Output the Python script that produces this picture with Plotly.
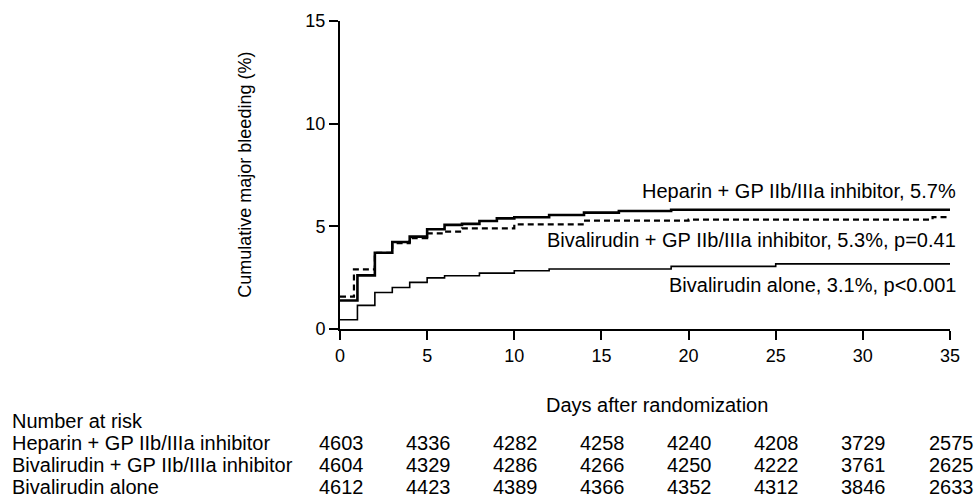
import plotly.graph_objects as go

# ---- data ----
heparin_days = [0, 1, 2, 3, 4, 5, 6, 7, 8, 9, 10, 12, 14, 16, 19, 35]
heparin_vals = [1.39, 2.61, 3.71, 4.24, 4.50, 4.86, 5.07, 5.12, 5.26, 5.39, 5.44, 5.55, 5.67, 5.75, 5.81, 5.81]

bivgp_days = [0, 0.8, 2, 3, 4, 5, 6, 7, 10, 14, 20, 34, 35]
bivgp_vals = [1.58, 2.90, 3.71, 4.18, 4.42, 4.66, 4.74, 4.90, 5.10, 5.28, 5.33, 5.45, 5.45]

biv_days = [0, 1, 2, 3, 4, 5, 6, 8, 10, 12, 19, 25, 35]
biv_vals = [0.45, 1.15, 1.78, 2.02, 2.27, 2.49, 2.59, 2.72, 2.84, 2.92, 3.05, 3.17, 3.17]

curve_labels = ["Heparin + GP IIb/IIIa inhibitor, 5.7%",
                "Bivalirudin + GP IIb/IIIa inhibitor, 5.3%, p=0.41",
                "Bivalirudin alone, 3.1%, p<0.001"]
curve_label_y = [6.74, 4.32, 2.14]

risk_days = [0, 5, 10, 15, 20, 25, 30, 35]
risk_groups = ["Heparin + GP IIb/IIIa inhibitor",
               "Bivalirudin + GP IIb/IIIa inhibitor",
               "Bivalirudin alone"]
risk_heparin = [4603, 4336, 4282, 4258, 4240, 4208, 3729, 2575]
risk_bivgp = [4604, 4329, 4286, 4266, 4250, 4222, 3761, 2625]
risk_biv = [4612, 4423, 4389, 4366, 4352, 4312, 3846, 2633]

x_ticks = [0, 5, 10, 15, 20, 25, 30, 35]
y_ticks = [0, 5, 10, 15]

FONT = "Liberation Sans, Arial, Helvetica, sans-serif"
FS = 18
FS_BIG = 20

fig = go.Figure()
fig.add_trace(go.Scatter(x=heparin_days, y=heparin_vals, mode="lines", line_shape="hv",
                         line=dict(color="black", width=2.6), showlegend=False))
fig.add_trace(go.Scatter(x=bivgp_days, y=bivgp_vals, mode="lines", line_shape="hv",
                         line=dict(color="black", width=2.2, dash="6px,4px"), showlegend=False))
fig.add_trace(go.Scatter(x=biv_days, y=biv_vals, mode="lines", line_shape="hv",
                         line=dict(color="black", width=1.6), showlegend=False))

ann = []
for txt, yv in zip(curve_labels, curve_label_y):
    ann.append(dict(x=1, xref="paper", y=yv, yref="y", text=txt, showarrow=False,
                    xanchor="right", yanchor="middle", xshift=8,
                    font=dict(family=FONT, size=FS_BIG, color="black")))

# axis titles
ann.append(dict(x=18.2, xref="x", y=(329.3 - 405) / 308.6, yref="paper",
                text="Days after randomization", showarrow=False,
                xanchor="center", yanchor="middle",
                font=dict(family=FONT, size=FS_BIG, color="black")))
ann.append(dict(x=(245 - 340.3) / 610, xref="paper", y=0.5, yref="paper",
                text="Cumulative major bleeding (%)", showarrow=False, textangle=-90,
                xanchor="center", yanchor="middle",
                font=dict(family=FONT, size=FS, color="black")))

# number at risk table
row_py = [421, 444, 466, 488]
def py(p):
    return (329.3 - p) / 308.6

ann.append(dict(x=(10 - 340.3) / 610, xref="paper", y=py(row_py[0]), yref="paper",
                text="Number at risk", showarrow=False, xanchor="left", yanchor="middle",
                font=dict(family=FONT, size=FS_BIG, color="black")))
for i, (grp, vals) in enumerate(zip(risk_groups, [risk_heparin, risk_bivgp, risk_biv])):
    ann.append(dict(x=(10 - 340.3) / 610, xref="paper", y=py(row_py[i + 1]), yref="paper",
                    text=grp, showarrow=False, xanchor="left", yanchor="middle",
                    font=dict(family=FONT, size=FS_BIG, color="black")))
    for d, v in zip(risk_days, vals):
        ann.append(dict(x=d, xref="x", y=py(row_py[i + 1]), yref="paper",
                        text=str(v), showarrow=False, xanchor="center", yanchor="middle",
                        xshift=1,
                        font=dict(family=FONT, size=FS_BIG, color="black")))

fig.update_layout(
    width=974, height=503,
    margin=dict(l=340.3, r=23.7, t=20.7, b=173.7),
    paper_bgcolor="white", plot_bgcolor="white",
    font=dict(family=FONT, size=FS, color="black"),
    annotations=ann,
    xaxis=dict(range=[0, 35], tickvals=x_ticks, ticks="outside", ticklen=9, tickwidth=2,
               tickcolor="black", showline=True, linecolor="black", linewidth=2,
               showgrid=False, zeroline=False, fixedrange=True,
               tickfont=dict(family=FONT, size=FS, color="black")),
    yaxis=dict(range=[0, 15], tickvals=y_ticks, ticks="outside", ticklen=9, tickwidth=2,
               tickcolor="black", showline=True, linecolor="black", linewidth=2,
               showgrid=False, zeroline=False, fixedrange=True,
               tickfont=dict(family=FONT, size=FS, color="black")),
)

fig.write_html("out.html")
